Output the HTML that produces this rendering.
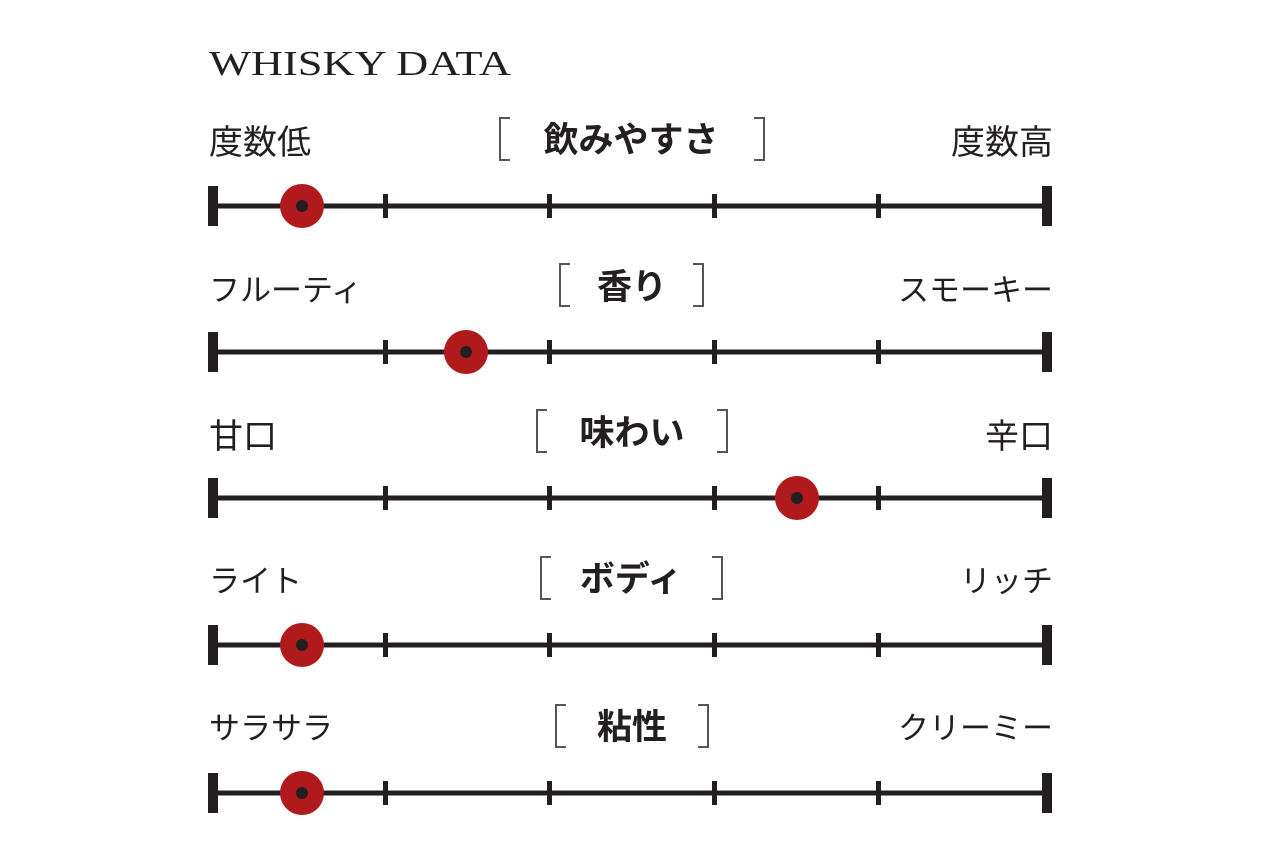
<!DOCTYPE html>
<html><head><meta charset="utf-8"><style>
html,body{margin:0;padding:0;background:#fff;}
svg{display:block}
.t{font-family:"Liberation Sans","Noto Sans CJK JP",sans-serif;font-size:34px;fill:#231f20}
.k{font-family:"Liberation Sans","Noto Sans CJK JP",sans-serif;font-size:31px;fill:#231f20}
.b{font-family:"Liberation Sans","Noto Sans CJK JP",sans-serif;font-size:35px;font-weight:bold;fill:#231f20}
</style></head><body>
<svg width="1280" height="853" viewBox="0 0 1280 853" xmlns="http://www.w3.org/2000/svg">
<text x="209" y="75" font-family="Liberation Serif, serif" font-size="35" fill="#231f20" textLength="302" lengthAdjust="spacingAndGlyphs">WHISKY DATA</text>
<defs>
<g id="bar">
<line x1="212" y1="0" x2="1050" y2="0" stroke="#231f20" stroke-width="5"/>
<rect x="208" y="-20" width="10" height="40" fill="#231f20"/>
<rect x="1042" y="-20" width="10" height="40" fill="#231f20"/>
<rect x="383" y="-12" width="5" height="24" fill="#231f20"/>
<rect x="547" y="-12" width="5" height="24" fill="#231f20"/>
<rect x="712" y="-12" width="5" height="24" fill="#231f20"/>
<rect x="876" y="-12" width="5" height="24" fill="#231f20"/>
</g>
</defs>

<g transform="translate(0,206)">
<use href="#bar"/>
<circle cx="302" cy="0" r="22" fill="#b01a1d"/><circle cx="302" cy="0" r="6" fill="#231f20"/>
<text class="t" x="209" y="-52">度数低</text>
<text class="t" x="1053" y="-52" text-anchor="end">度数高</text>
<path d="M510,-88 H500 V-46 H510 M754,-88 H764 V-46 H754" fill="none" stroke="#555" stroke-width="2"/>
<text class="b" x="631" y="-54" text-anchor="middle">飲みやすさ</text>
</g>
<g transform="translate(0,352)">
<use href="#bar"/>
<circle cx="466" cy="0" r="22" fill="#b01a1d"/><circle cx="466" cy="0" r="6" fill="#231f20"/>
<text class="k" x="209" y="-51">フルーティ</text>
<text class="k" x="1053" y="-51" text-anchor="end">スモーキー</text>
<path d="M570,-88 H560 V-46 H570 M693,-88 H703 V-46 H693" fill="none" stroke="#555" stroke-width="2"/>
<text class="b" x="632" y="-53" text-anchor="middle">香り</text>
</g>
<g transform="translate(0,498)">
<use href="#bar"/>
<circle cx="797" cy="0" r="22" fill="#b01a1d"/><circle cx="797" cy="0" r="6" fill="#231f20"/>
<text class="t" x="209" y="-50">甘口</text>
<text class="t" x="1053" y="-50" text-anchor="end">辛口</text>
<path d="M547,-88 H537 V-46 H547 M717,-88 H727 V-46 H717" fill="none" stroke="#555" stroke-width="2"/>
<text class="b" x="632" y="-53" text-anchor="middle">味わい</text>
</g>
<g transform="translate(0,645)">
<use href="#bar"/>
<circle cx="302" cy="0" r="22" fill="#b01a1d"/><circle cx="302" cy="0" r="6" fill="#231f20"/>
<text class="k" x="209" y="-53">ライト</text>
<text class="k" x="1053" y="-53" text-anchor="end">リッチ</text>
<path d="M551,-88 H541 V-46 H551 M712,-88 H722 V-46 H712" fill="none" stroke="#555" stroke-width="2"/>
<text class="b" x="631" y="-54" text-anchor="middle">ボディ</text>
</g>
<g transform="translate(0,793)">
<use href="#bar"/>
<circle cx="302" cy="0" r="22" fill="#b01a1d"/><circle cx="302" cy="0" r="6" fill="#231f20"/>
<text class="k" x="209" y="-54">サラサラ</text>
<text class="k" x="1053" y="-54" text-anchor="end">クリーミー</text>
<path d="M566,-88 H556 V-46 H566 M698,-88 H708 V-46 H698" fill="none" stroke="#555" stroke-width="2"/>
<text class="b" x="632" y="-54" text-anchor="middle">粘性</text>
</g>
</svg>
</body></html>
